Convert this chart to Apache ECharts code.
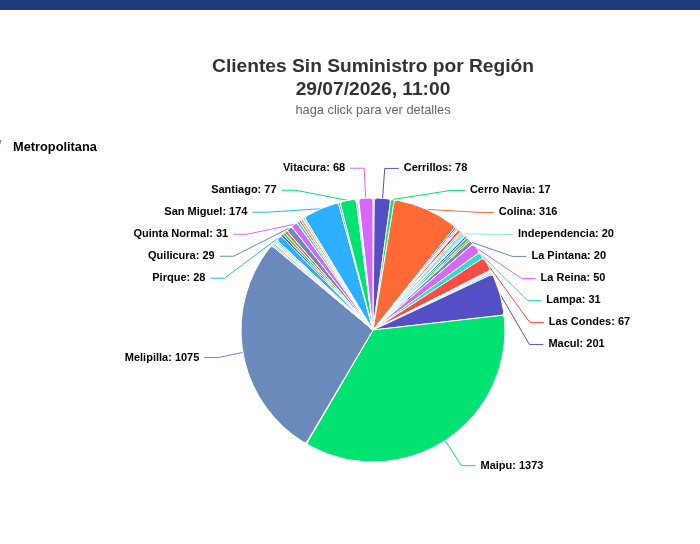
<!DOCTYPE html>
<html>
<head>
<meta charset="utf-8">
<title>Clientes Sin Suministro</title>
<script src="https://cdn.jsdelivr.net/npm/echarts@6/dist/echarts.min.js"></script>
<style>
    html, body {margin: 0; padding: 0; background: #fff;}
    #main {width: 700px; height: 544px;}
</style>
</head>
<body>
<div id="main"></div>
<script>
//comunas de la region (orden del grafico)
var comunas = [
    'Buin', 'Cerrillos', 'Cerro Navia', 'Colina', 'Conchalí', 'El Bosque', 'El Monte', 'Estación Central',
    'Huechuraba', 'Independencia', 'Isla de Maipo', 'La Cisterna', 'La Florida', 'La Granja', 'La Pintana',
    'La Reina', 'Lampa', 'Las Condes', 'Lo Barnechea', 'Lo Espejo', 'Lo Prado', 'Macul', 'Maipu',
    'María Pinto', 'Melipilla', 'Ñuñoa', 'Padre Hurtado', 'Paine', 'Pedro Aguirre Cerda', 'Peñaflor',
    'Pirque', 'Providencia', 'Pudahuel', 'Puente Alto', 'Quilicura', 'Quinta Normal', 'Recoleta', 'Renca',
    'San Bernardo', 'San Joaquín', 'San Miguel', 'San Ramón', 'Santiago', 'Talagante', 'Tiltil', 'Vitacura'
];
//clientes sin suministro
var clientes = [
    6, 78, 17, 316, 9, 7, 5, 12,
    8, 20, 4, 10, 13, 9, 20,
    50, 31, 67, 6, 8, 7, 201, 1373,
    3, 1075, 6, 8, 5, 7, 9,
    28, 11, 12, 14, 29, 31, 13, 9,
    12, 10, 174, 8, 77, 7, 5, 68
];

var colores = ['#2caffe', '#544fc5', '#00e272', '#fe6a35', '#6b8abc',
    '#d568fb', '#2ee0ca', '#fa4b42', '#feb56a', '#91e8e1'];

var datos = [];
for (var i = 0; i < comunas.length; i++) {
    datos.push({name: comunas[i], value: clientes[i]});
}

var option = {
    animation: false,
    color: colores,
    title: {
        text: 'Clientes Sin Suministro por Región\n29/07/2026, 11:00',
        subtext: 'haga click para ver detalles',
        left: 368,
        top: 50,
        textAlign: 'center',
        itemGap: 2,
        textStyle: {
            fontFamily: 'Arial',
            fontSize: 19.2,
            fontWeight: 'bold',
            color: '#333',
            lineHeight: 23
        },
        subtextStyle: {
            fontFamily: 'Arial',
            fontSize: 12.8,
            color: '#666',
            lineHeight: 15
        }
    },
    graphic: [
        {
            type: 'rect',
            shape: {x: 0, y: 0, width: 700, height: 10},
            style: {fill: '#1f3b7b'}
        },
        {
            type: 'text',
            left: -2,
            top: 140,
            style: {text: '/', fontFamily: 'Arial', fontSize: 12, fill: '#666'}
        },
        {
            type: 'text',
            left: 13,
            top: 141,
            style: {text: 'Metropolitana', fontFamily: 'Arial', fontSize: 12.8, fontWeight: 'bold', fill: '#000'}
        }
    ],
    series: [
        {
            type: 'pie',
            center: [373, 330],
            radius: 132,
            startAngle: 90,
            minShowLabelAngle: 1.45,
            avoidLabelOverlap: true,
            data: datos,
            itemStyle: {
                borderColor: '#fff',
                borderWidth: 1,
                borderRadius: 3
            },
            label: {
                formatter: '{b}: {c}',
                fontFamily: 'Arial',
                fontSize: 11,
                fontWeight: 'bold',
                color: '#000',
                lineHeight: 20,
                textBorderColor: '#fff',
                textBorderWidth: 1
            },
            labelLine: {
                length: 30,
                length2: 14,
                lineStyle: {width: 1}
            },
            emphasis: {scale: false}
        }
    ]
};

var chart = echarts.init(document.getElementById('main'));
chart.setOption(option);
</script>
</body>
</html>
